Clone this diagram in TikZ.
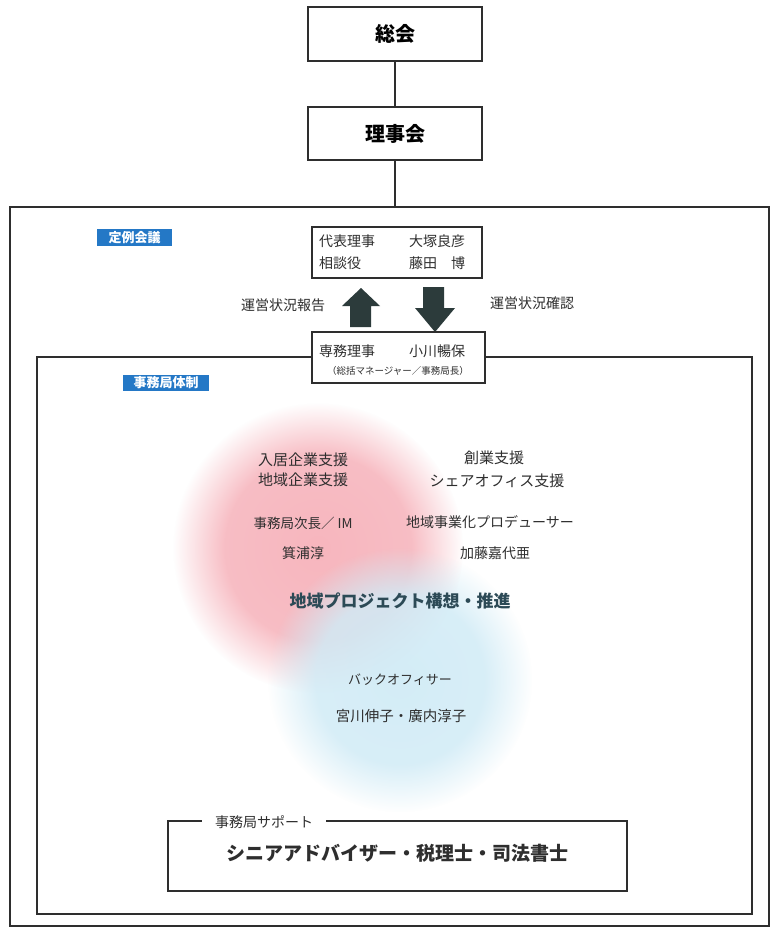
\documentclass[tikz,border=0pt]{standalone}
\usepackage{fontspec}
\setmainfont{Noto Sans CJK JP}
\usetikzlibrary{fadings}
\definecolor{ink}{HTML}{2E2E2E}
\definecolor{lblue}{HTML}{2478C6}
\definecolor{arrowc}{HTML}{2C3B3B}
\definecolor{pinkc}{HTML}{F7B6BE}
\definecolor{bluec}{HTML}{D0EBF6}
\definecolor{tealc}{HTML}{2C4A56}
\pgfdeclareradialshading{softshade}{\pgfpointorigin}{color(0bp)=(pgftransparent!0); color(16bp)=(pgftransparent!10); color(25bp)=(pgftransparent!100); color(50bp)=(pgftransparent!100)}
\pgfdeclarefading{softc}{\pgfuseshading{softshade}}
\newcommand{\fs}[1]{\fontsize{#1}{#1}\selectfont}
\tikzset{
  box/.style={draw=ink, line width=1.3pt, fill=white, inner sep=0pt},
  frame/.style={draw=ink, line width=1.3pt, inner sep=0pt},
  conn/.style={draw=ink, line width=1.3pt},
  txt/.style={text=ink, inner sep=0pt},
  tag/.style={fill=lblue, text=white, inner sep=0pt, font=\fs{13}\bfseries},
  blockarrow/.style={fill=arrowc},
}
\begin{document}
\begin{tikzpicture}[x=1pt,y=-1pt]
\useasboundingbox (0,0) rectangle (772,928);
\fill[white] (0,0) rectangle (772,928);

% frames
\node[frame, minimum width=759pt, minimum height=719pt] (outer) at (389.5,566.5) {};
\node[frame, minimum width=715pt, minimum height=557pt] (inner) at (394.5,635.5) {};

% circles
\fill[pinkc, path fading=softc] (318,548) circle (145);
\fill[bluec, opacity=0.92, path fading=softc] (400,680) circle (132);

% top boxes
\node[box, minimum width=174pt, minimum height=54pt, font=\fs{20}\bfseries] (soukai) at (395,34) {総会};
\node[box, minimum width=174pt, minimum height=53pt, font=\fs{20}\bfseries] (riji) at (395,133.5) {理事会};
\draw[conn] (soukai) -- (riji);
\draw[conn] (riji) -- (riji |- outer.north);

% teirei box
\node[box, minimum width=170pt, minimum height=51pt] (teirei) at (397,252.5) {};
\node[txt, anchor=west, font=\fs{14}] (t1) at (319,241) {代表理事};
\node[txt, anchor=west, font=\fs{14}] (t2) at (409,241) {大塚良彦};
\node[txt, anchor=west, font=\fs{14}] (t3) at (319,263) {相談役};
\node[txt, anchor=west, font=\fs{14}] (t4) at (409,263) {藤田\hspace{14pt}博};

% block arrows
\fill[blockarrow] (350,327) -- (350,306) -- (342,306) -- (361,288) -- (380,306) -- (371,306) -- (371,327) -- cycle;
\fill[blockarrow] (423,287) -- (444,287) -- (444,308) -- (455,308) -- (435,332) -- (415,308) -- (423,308) -- cycle;
\node[txt, font=\fs{14}] (rep) at (283,305) {運営状況報告};
\node[txt, font=\fs{14}] (conf) at (532,303) {運営状況確認};

% senmu box
\node[box, minimum width=173pt, minimum height=51pt] (senmu) at (398.5,357.5) {};
\node[txt, anchor=west, font=\fs{14}] (s1) at (319,351) {専務理事};
\node[txt, anchor=west, font=\fs{14}] (s2) at (409,351) {小川暢保};
\node[txt, font=\fs{9.5}] (s3) at (398,371) {（総括マネージャー／事務局長）};

% tags
\node[tag, minimum width=75pt, minimum height=17pt] (teireitag) at (134.5,237.5) {定例会議};
\node[tag, minimum width=86pt, minimum height=16pt] (jimutag) at (166,383) {事務局体制};

% circle texts
\node[txt, font=\fs{15}] (a1) at (303,460) {入居企業支援};
\node[txt, font=\fs{15}] (a2) at (303,480) {地域企業支援};
\node[txt, font=\fs{15}] (b1) at (494,458) {創業支援};
\node[txt, font=\fs{15}] (b2) at (497,481) {シェアオフィス支援};
\node[txt, font=\fs{13.5}] (a3) at (303,523) {事務局次長／ IM};
\node[txt, font=\fs{14}] (b3) at (490,522) {地域事業化プロデューサー};
\node[txt, font=\fs{14}] (a4) at (303,553) {箕浦淳};
\node[txt, font=\fs{14}] (b4) at (495,553) {加藤嘉代亜};
\node[txt, font=\fs{17}\bfseries, text=tealc] (proj) at (400,601) {地域プロジェクト構想・推進};
\node[txt, font=\fs{13}] (back) at (400,680) {バックオフィサー};
\node[txt, font=\fs{14.5}] (backn) at (401,716) {宮川伸子・廣内淳子};

% support box
\node[box, minimum width=459pt, minimum height=70pt] (sup) at (397.5,856) {};
\node[txt, fill=white, inner xsep=13pt, inner ysep=2pt, font=\fs{14}] (suplab) at (264,822) {事務局サポート};
\node[txt, font=\fs{19}\bfseries] (supmain) at (397,853) {シニアアドバイザー・税理士・司法書士};
\end{tikzpicture}
\end{document}
